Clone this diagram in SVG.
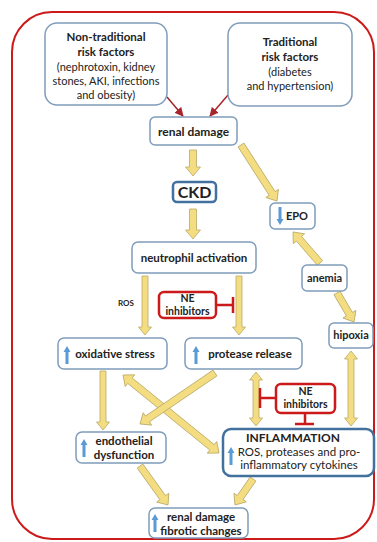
<svg xmlns="http://www.w3.org/2000/svg" width="377" height="542" viewBox="0 0 377 542">
<style>
text{font-family:Lato,"Open Sans","Liberation Sans",sans-serif;fill:#222;text-anchor:middle}
.b{font-weight:bold}
.box{fill:#fff;stroke:#7f9cbb;stroke-width:1.5}
.tbox{fill:#fff;stroke:#41719c;stroke-width:2.5}
.ne{fill:#fff;stroke:#cc1a1a;stroke-width:2.5}
.inh{stroke:#cc1a1a;stroke-width:2.5;fill:none}
.ya{fill:#f4dd80;stroke:#b9aa6a;stroke-width:0.8}
.ra{stroke:#a8242a;stroke-width:1.5;fill:none}
.blue{fill:#5b9bd5}
</style>
<defs>
<marker id="rh" viewBox="0 0 10 10" refX="9" refY="5" markerWidth="6" markerHeight="6" orient="auto"><path d="M0,0 L10,5 L0,10 Z" fill="#a8242a"/></marker>
<path id="up" class="blue" d="M0,-9 L3.5,-3 L1.5,-3 L1.5,9 L-1.5,9 L-1.5,-3 L-3.5,-3 Z"/>
<path id="down" class="blue" d="M0,9 L3.5,3 L1.5,3 L1.5,-9 L-1.5,-9 L-1.5,3 L-3.5,3 Z"/>
</defs>
<rect x="12" y="12" width="362" height="527" rx="40" fill="none" stroke="#cc1a1a" stroke-width="2"/>

<g id="connectors">
<line class="ra" x1="167" y1="97" x2="183" y2="116" marker-end="url(#rh)"/>
<line class="ra" x1="228" y1="95" x2="210" y2="116" marker-end="url(#rh)"/>
<path class="ya" transform="translate(193,150) rotate(90)" d="M0,-3.5 L17,-3.5 L17,-7.5 L26,0 L17,7.5 L17,3.5 L0,3.5 Z"/>
<path class="ya" transform="translate(193,209) rotate(90)" d="M0,-3.5 L21,-3.5 L21,-7.5 L30,0 L21,7.5 L21,3.5 L0,3.5 Z"/>
<path class="ya" transform="translate(241,145) rotate(57.3)" d="M0,-3.5 L57.6,-3.5 L57.6,-7.5 L66.6,0 L57.6,7.5 L57.6,3.5 L0,3.5 Z"/>
<path class="ya" transform="translate(320,263) rotate(-131)" d="M0,-3.5 L32.1,-3.5 L32.1,-7.5 L41.1,0 L32.1,7.5 L32.1,3.5 L0,3.5 Z"/>
<path class="ya" transform="translate(337,293) rotate(59.6)" d="M0,-3.5 L24.6,-3.5 L24.6,-7.5 L33.6,0 L24.6,7.5 L24.6,3.5 L0,3.5 Z"/>
<path class="ya" transform="translate(145,276) rotate(90)" d="M0,-3 L51,-3 L51,-6.5 L59,0 L51,6.5 L51,3 L0,3 Z"/>
<path class="ya" transform="translate(239,276) rotate(90)" d="M0,-3 L51,-3 L51,-6.5 L59,0 L51,6.5 L51,3 L0,3 Z"/>
<path class="ya" transform="translate(103,371) rotate(90)" d="M0,-3 L51,-3 L51,-6.5 L59,0 L51,6.5 L51,3 L0,3 Z"/>
<path class="ya" transform="translate(123,375) rotate(39.1)" d="M0,0 L9,-7.5 L9,-3.5 L114.7,-3.5 L114.7,-7.5 L123.7,0 L114.7,7.5 L114.7,3.5 L9,3.5 L9,7.5 Z"/>
<path class="ya" transform="translate(215,373) rotate(145.8)" d="M0,-3.5 L81.7,-3.5 L81.7,-7.5 L90.7,0 L81.7,7.5 L81.7,3.5 L0,3.5 Z"/>
<path class="ya" transform="translate(256,372) rotate(90)" d="M0,0 L8,-6.5 L8,-3 L46,-3 L46,-6.5 L54,0 L46,6.5 L46,3 L8,3 L8,6.5 Z"/>
<path class="ya" transform="translate(351,351) rotate(90)" d="M0,0 L8,-6.5 L8,-3 L67,-3 L67,-6.5 L75,0 L67,6.5 L67,3 L8,3 L8,6.5 Z"/>
<path class="ya" transform="translate(140,466) rotate(54.3)" d="M0,-3.5 L39,-3.5 L39,-7.5 L48,0 L39,7.5 L39,3.5 L0,3.5 Z"/>
<path class="ya" transform="translate(253,479) rotate(124.7)" d="M0,-3.5 L22.6,-3.5 L22.6,-7.5 L31.6,0 L22.6,7.5 L22.6,3.5 L0,3.5 Z"/>
<path class="inh" d="M216,305 H233 M233,297 V313"/>
<path class="inh" d="M276,398 H260 M260,388 V408"/>
<path class="inh" d="M305,413 V424 M295,424 H314"/>
</g>

<g id="nontrad">
<rect class="box" x="45" y="23" width="122" height="82" rx="12"/>
<text class="b" font-size="11.5" x="106" y="41">Non-traditional</text>
<text class="b" font-size="11.5" x="106" y="56">risk factors</text>
<text font-size="11" x="106" y="71">(nephrotoxin, kidney</text>
<text font-size="11" x="106" y="85">stones, AKI, infections</text>
<text font-size="11" x="106" y="99">and obesity)</text>
</g>
<g id="trad">
<rect class="box" x="228" y="23" width="124" height="83" rx="12"/>
<text class="b" font-size="11.5" x="290" y="46">Traditional</text>
<text class="b" font-size="11.5" x="290" y="61">risk factors</text>
<text font-size="11" x="290" y="76">(diabetes</text>
<text font-size="11" x="290" y="90">and hypertension)</text>
</g>
<g id="renal">
<rect class="box" x="150" y="117" width="87" height="28" rx="5"/>
<text class="b" font-size="12" x="193.5" y="135.5">renal damage</text>
</g>
<g id="ckd">
<rect class="tbox" x="173" y="182" width="43" height="20" rx="4"/>
<text class="b" font-size="16" x="194.5" y="198">CKD</text>
</g>
<g id="neutrophil">
<rect class="box" x="132" y="242" width="124" height="31" rx="6"/>
<text class="b" font-size="11.5" x="194" y="262">neutrophil activation</text>
</g>
<g id="epo">
<rect class="box" x="270" y="203" width="45" height="26" rx="5"/>
<use href="#down" x="280" y="216"/>
<text class="b" font-size="11" x="297" y="220">EPO</text>
</g>
<g id="anemia">
<rect class="box" x="302" y="265" width="45" height="26" rx="5"/>
<text class="b" font-size="11" x="324.5" y="282">anemia</text>
</g>
<g id="hipoxia">
<rect class="box" x="329" y="323" width="44" height="25" rx="5"/>
<text class="b" font-size="11" x="351" y="339">hipoxia</text>
</g>
<text class="b" font-size="8" x="126" y="306">ROS</text>
<g id="ne1">
<rect class="ne" x="159" y="292" width="57" height="26" rx="5"/>
<text class="b" font-size="10.5" x="187.5" y="302">NE</text>
<text class="b" font-size="10.5" x="187.5" y="314.5">inhibitors</text>
</g>
<g id="oxidative">
<rect class="box" x="58" y="338" width="109" height="31" rx="6"/>
<use href="#up" x="67" y="355"/>
<text class="b" font-size="11.5" x="115" y="358">oxidative stress</text>
</g>
<g id="protease">
<rect class="box" x="185" y="338" width="117" height="31" rx="6"/>
<use href="#up" x="196" y="355"/>
<text class="b" font-size="11.5" x="250" y="358">protease release</text>
</g>
<g id="ne2">
<rect class="ne" x="276" y="384" width="59" height="29" rx="5"/>
<text class="b" font-size="10.5" x="305.5" y="395">NE</text>
<text class="b" font-size="10.5" x="305.5" y="408">inhibitors</text>
</g>
<g id="endothelial">
<rect class="box" x="76" y="432" width="90" height="31" rx="6"/>
<use href="#up" x="84" y="448"/>
<text class="b" font-size="11.5" x="124" y="445">endothelial</text>
<text class="b" font-size="11.5" x="124" y="459">dysfunction</text>
</g>
<g id="inflammation">
<rect class="tbox" x="223" y="429" width="151" height="47" rx="8"/>
<use href="#up" x="231" y="456"/>
<text class="b" font-size="12" x="293" y="442">INFLAMMATION</text>
<text font-size="11.5" x="299" y="456">ROS, proteases and pro-</text>
<text font-size="11.5" x="299" y="469">inflammatory cytokines</text>
</g>
<g id="fibrotic">
<rect class="box" x="149" y="508" width="99" height="30" rx="6"/>
<use href="#up" x="155" y="523"/>
<text class="b" font-size="11.5" x="201" y="521">renal damage</text>
<text class="b" font-size="11.5" x="201" y="535">fibrotic changes</text>
</g>
</svg>
